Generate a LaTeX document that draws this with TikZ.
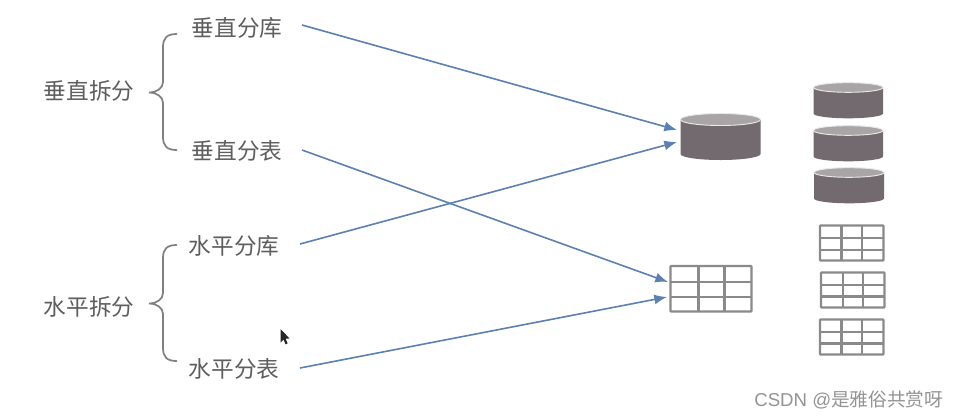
\documentclass[tikz,border=0pt]{standalone}
\usepackage{fontspec}
\setmainfont{Noto Sans CJK SC}
\newfontfamily\wmfont{Liberation Sans}
\newfontfamily\cjkfont{Noto Sans CJK SC}
\definecolor{txt}{HTML}{5E5E5E}
\definecolor{dbbody}{HTML}{736A70}
\definecolor{dbtop}{HTML}{A9A5A7}
\definecolor{arrowblue}{HTML}{5B80B2}
\definecolor{grid}{HTML}{8A8A8A}
\definecolor{bracec}{HTML}{808080}
\usetikzlibrary{arrows.meta}
\tikzset{
  lbl/.style={font=\fontsize{17pt}{20pt}\selectfont, text=txt, inner sep=0pt},
  conn/.style={draw=arrowblue, line width=1.2pt, -{Latex[length=9.5pt,width=7.5pt]}},
  bracel/.style={draw=bracec, line width=1.3pt, line cap=round},
  gridl/.style={draw=grid, line width=1.7pt},
}
% #1 left, #2 right, #3 ellipse centre y, #4 ry, #5 bottom side y
\newcommand{\dbcyl}[5]{%
  \fill[dbbody] (#1,#3) -- (#1,#5) arc[start angle=180,end angle=0,x radius={(#2-#1)/2},y radius=#4] -- (#2,#3) -- cycle;
  \filldraw[fill=dbtop,draw=white!75!dbtop,line width=0.7pt] ({(#1+#2)/2},#3) ellipse[x radius={(#2-#1)/2},y radius=#4];
}
% #1 left #2 right #3 top #4 bottom #5 col1 #6 col2 #7 row1 #8 row2
\newcommand{\gridtab}[8]{%
  \draw[gridl,rounded corners=0.6pt] (#1,#3) rectangle (#2,#4);
  \draw[gridl] (#5,#3) -- (#5,#4) (#6,#3) -- (#6,#4) (#1,#7) -- (#2,#7) (#1,#8) -- (#2,#8);
}
\begin{document}
\begin{tikzpicture}[x=0.75pt,y=-0.75pt]
\useasboundingbox (0,0) rectangle (960,419);
\fill[white] (0,0) rectangle (960,419);

% labels
\node[lbl] (vs) at (89,91) {垂直拆分};
\node[lbl] (vdb) at (237,28) {垂直分库};
\node[lbl] (vtb) at (237,151) {垂直分表};
\node[lbl] (hs) at (89,307) {水平拆分};
\node[lbl] (hdb) at (234,246) {水平分库};
\node[lbl] (htb) at (234,369) {水平分表};

% braces
\draw[bracel] (176.5,34) .. controls (167,34) and (163,38) .. (163,47) -- (163,82)
  .. controls (163,88) and (157,92.5) .. (149,92.5)
  .. controls (157,92.5) and (163,97) .. (163,103) -- (163,137)
  .. controls (163,146) and (167,150) .. (176.5,150);
\draw[bracel] (176.5,245) .. controls (167,245) and (163,249) .. (163,258) -- (163,293)
  .. controls (163,299) and (157,303.5) .. (149,303.5)
  .. controls (157,303.5) and (163,308) .. (163,314) -- (163,348)
  .. controls (163,357) and (167,361) .. (176.5,361);

% cylinders
\dbcyl{680.5}{760.5}{119.5}{6}{154}
\dbcyl{813.5}{883}{87.5}{4.8}{113.5}
\dbcyl{813.5}{883}{130.5}{4.8}{156.5}
\dbcyl{814}{884}{172.5}{4.8}{198.5}

% tables
\gridtab{670.5}{751.5}{266}{311.5}{698.5}{724.5}{282}{297}
\gridtab{820}{883.5}{225.5}{260.5}{841.5}{862}{238}{250}
\gridtab{821}{884.5}{272.5}{307.5}{843}{863}{285}{296.5}
\gridtab{820}{883.5}{319.5}{354.5}{841.5}{862}{332}{343.5}

% connectors
\coordinate (a1) at (302,25);
\coordinate (b1) at (677,130);
\coordinate (a2) at (302,150);
\coordinate (b2) at (668,282);
\coordinate (a3) at (300,244);
\coordinate (b3) at (677,142);
\coordinate (a4) at (300,368);
\coordinate (b4) at (667,297);
\draw[conn] (a1) -- (b1);
\draw[conn] (a2) -- (b2);
\draw[conn] (a3) -- (b3);
\draw[conn] (a4) -- (b4);

% cursor
\fill[black!85] (280.5,329) -- (280.5,342.5) -- (283.6,339.6) -- (285.6,344.4) -- (287.6,343.4) -- (285.6,338.8) -- (289.5,338.4) -- cycle;

% watermark
\node[inner sep=0pt, anchor=west, text=black!42] (wm) at (754,400)
  {\fontsize{14pt}{16pt}\selectfont{\wmfont CSDN @}\cjkfont 是雅俗共赏呀};
\end{tikzpicture}
\end{document}
